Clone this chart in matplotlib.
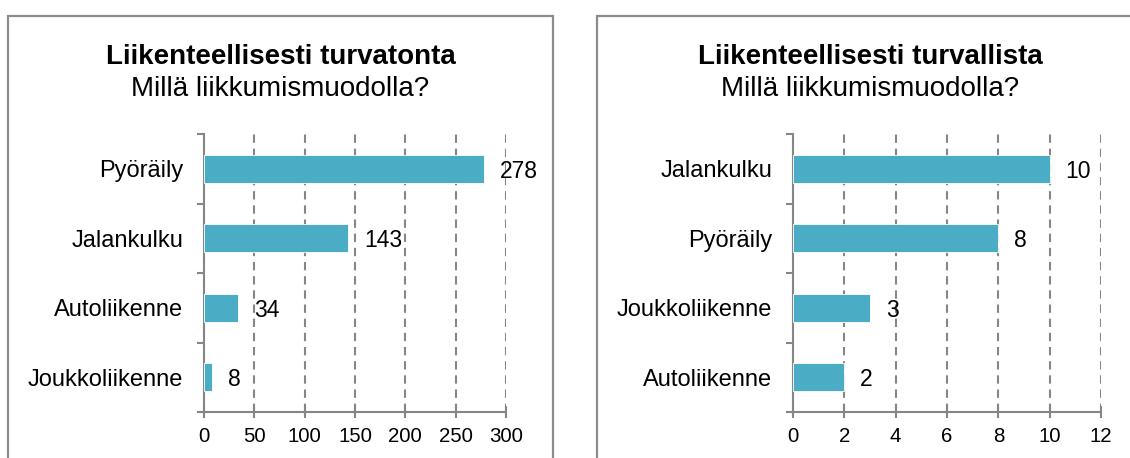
import matplotlib.pyplot as plt
from matplotlib.patches import Rectangle
from matplotlib.ticker import FixedLocator

plt.rcParams["font.family"] = ["Liberation Sans", "DejaVu Sans"]

# unsafe modes (left) and safe modes (right)
unsafe_modes = ["Pyöräily", "Jalankulku", "Autoliikenne", "Joukkoliikenne"]
unsafe_counts = [278, 143, 34, 8]
unsafe_ticks = [0, 50, 100, 150, 200, 250, 300]

safe_modes = ["Jalankulku", "Pyöräily", "Joukkoliikenne", "Autoliikenne"]
safe_counts = [10, 8, 3, 2]
safe_ticks = [0, 2, 4, 6, 8, 10, 12]

BAR = "#4bacc6"
GRID = "#868686"
W, H = 1130, 458

fig = plt.figure(figsize=(W / 100, H / 100), dpi=100, facecolor="white")


def panel(frame_x0, frame_x1, ax_x0, ax_x1, title, modes, counts, ticks):
    # outer chart frame, running off the bottom edge
    fig.add_artist(Rectangle((frame_x0 / W, -0.1), (frame_x1 - frame_x0) / W,
                             (H - 16) / H + 0.1, transform=fig.transFigure,
                             fill=False, edgecolor="#8c8c8c", linewidth=1.6))
    cx = (frame_x0 + frame_x1) / 2 / W
    fig.text(cx, 1 - 57 / H, title, ha="center", va="center",
             fontsize=20, fontweight="bold")
    fig.text(cx, 1 - 89 / H, "Millä liikkumismuodolla?", ha="center",
             va="center", fontsize=20)

    top, bottom = 134, 412
    ax = fig.add_axes([ax_x0 / W, 1 - bottom / H, (ax_x1 - ax_x0) / W,
                       (bottom - top) / H])
    pos = list(range(len(modes)))
    ax.barh(pos, counts, height=0.4, color=BAR, edgecolor="white",
            linewidth=0.6, zorder=3)
    for p, v in zip(pos, counts):
        ax.annotate(str(v), (v, p), xytext=(11.5, 0), textcoords="offset points",
                    ha="left", va="center_baseline", fontsize=16.5, zorder=4)

    ax.set_xlim(ticks[0], ticks[-1])
    ax.set_ylim(len(modes) - 0.5, -0.5)
    ax.set_xticks(ticks)
    ax.set_xticklabels([str(t) for t in ticks], fontsize=14.7)
    ax.yaxis.set_major_locator(FixedLocator([p - 0.5 for p in pos] + [len(modes) - 0.5]))
    ax.yaxis.set_major_formatter(plt.NullFormatter())
    ax.set_yticks(pos, minor=True)
    ax.set_yticklabels(modes, minor=True, fontsize=17)

    ax.tick_params(axis="y", which="major", direction="out", length=5,
                   width=1.5, color=GRID)
    ax.tick_params(axis="y", which="minor", length=0, pad=15)
    ax.tick_params(axis="x", direction="inout", length=8, width=1.5,
                   color=GRID, pad=7)

    for t in ticks[1:]:
        ax.axvline(t, color=GRID, linewidth=1.5, linestyle=(0, (4, 2.8)),
                   zorder=1)
    for side in ("top", "right"):
        ax.spines[side].set_visible(False)
    for side in ("left", "bottom"):
        ax.spines[side].set_color(GRID)
        ax.spines[side].set_linewidth(1.5)
    ax.set_facecolor("none")
    return ax


panel(8, 553, 204, 506, "Liikenteellisesti turvatonta",
      unsafe_modes, unsafe_counts, unsafe_ticks)
panel(597, 1143, 793, 1101, "Liikenteellisesti turvallista",
      safe_modes, safe_counts, safe_ticks)

fig.savefig("out.png", dpi=100, facecolor="white")
